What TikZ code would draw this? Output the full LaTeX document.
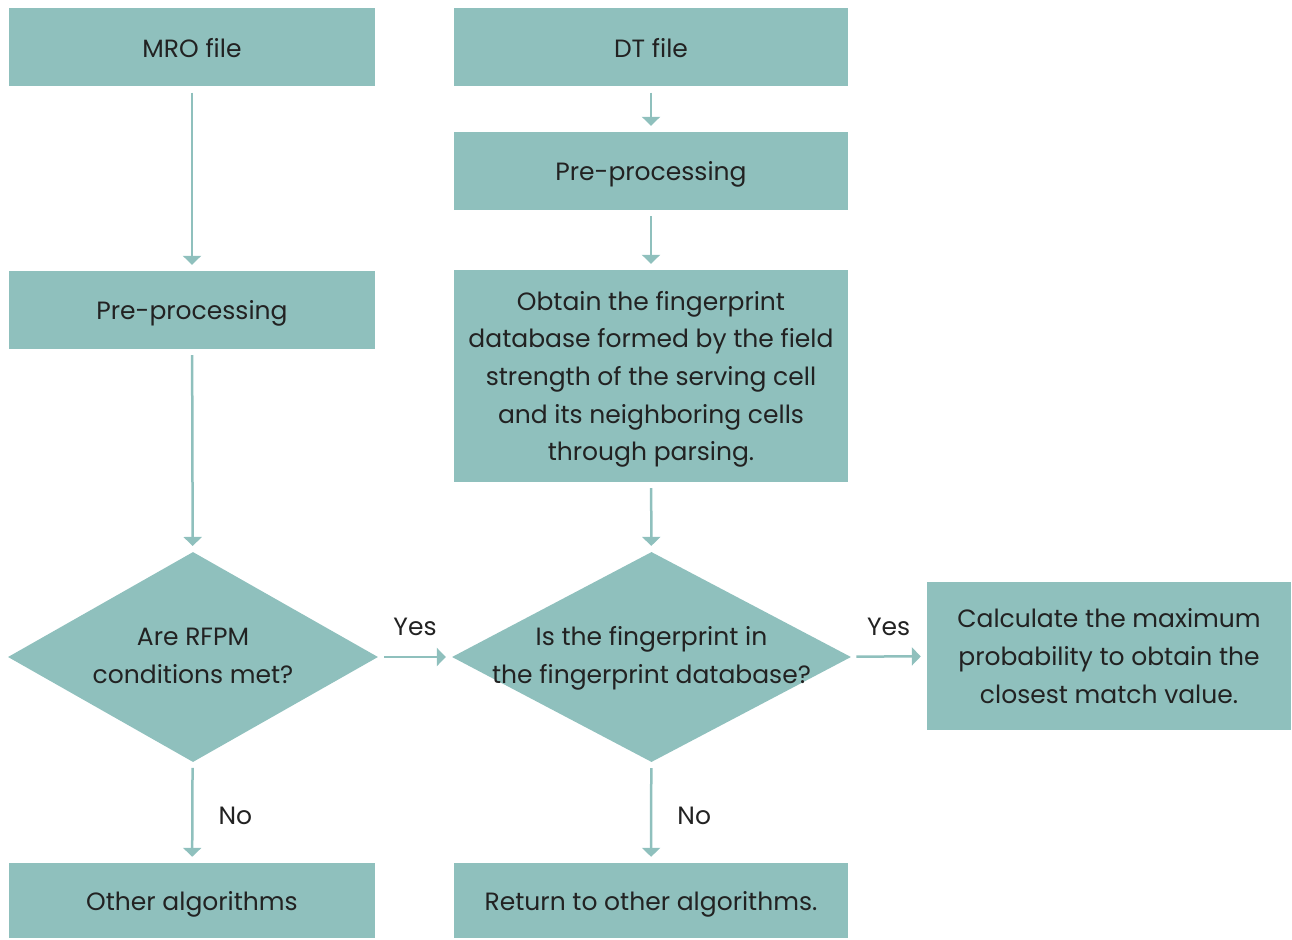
\documentclass[tikz,border=0pt]{standalone}
\usepackage{fontspec}
\setmainfont{Poppins}
\usetikzlibrary{shapes.geometric,arrows.meta}
\definecolor{boxfill}{HTML}{8FC0BD}
\definecolor{ink}{HTML}{222222}
\newcommand{\flowfont}{\fontsize{25}{37.7}\selectfont}

\begin{document}
\begin{tikzpicture}[x=1pt,y=-1pt,
  box/.style={fill=boxfill, inner sep=0pt, minimum height=78pt, text depth=0pt, align=center, text=ink, font=\flowfont},
  narrowbox/.style={box, minimum width=366pt},
  widebox/.style={box, minimum width=394pt},
  decision/.style={diamond, fill=boxfill, inner sep=0pt, minimum width=#1, minimum height=210pt},
  txt/.style={inner sep=0pt, align=center, text=ink, font=\flowfont},
  flow/.style={draw=boxfill, line width=2.5pt, -{Triangle[width=18pt,length=9pt]}, shorten <=6pt, shorten >=6pt}]
\useasboundingbox (0,0) rectangle (1292,939);
% left column
\node[narrowbox] (mro) at (192,47.5) {MRO file};
\node[narrowbox] (preL) at (192,310) {Pre-processing};
\node[decision=370pt] (rfpm) at (193,657) {};
\node[txt] (rfpmtxt) at (193,656) {Are RFPM\\conditions met?};
\node[narrowbox, minimum height=75pt] (other) at (192,900.5) {Other algorithms};
% middle column
\node[widebox] (dt) at (651,47.5) {DT file};
\node[widebox] (preR) at (651,171) {Pre-processing};
\node[widebox, minimum height=212pt, text depth=-5pt] (obtain) at (651,376) {Obtain the fingerprint\\database formed by the field\\strength of the serving cell\\and its neighboring cells\\through parsing.};
\node[decision=399pt] (infp) at (651.5,657) {};
\node[txt] (infptxt) at (651.5,658) {Is the fingerprint in\\the fingerprint database?};
\node[widebox, minimum height=75pt] (ret) at (651,900.5) {Return to other algorithms.};
% right
\node[box, minimum width=364pt, minimum height=148pt] (calc) at (1109,656) {Calculate the maximum\\probability to obtain the\\closest match value.};
% connectors
\draw[flow] (mro) -- (preL);
\draw[flow] (preL) -- (rfpm);
\draw[flow] (rfpm) -- node[txt, above=20pt] (yesL) {Yes} (infp);
\draw[flow] (rfpm) -- node[txt, right=25pt, yshift=-3pt] (noL) {No} (other);
\draw[flow] (dt) -- (preR);
\draw[flow] (preR) -- (obtain);
\draw[flow] (obtain) -- (infp);
\draw[flow] (infp) -- node[txt, above=20pt] (yesR) {Yes} (calc);
\draw[flow] (infp) -- node[txt, right=25pt, yshift=-3pt] (noR) {No} (ret);
\end{tikzpicture}
\end{document}
